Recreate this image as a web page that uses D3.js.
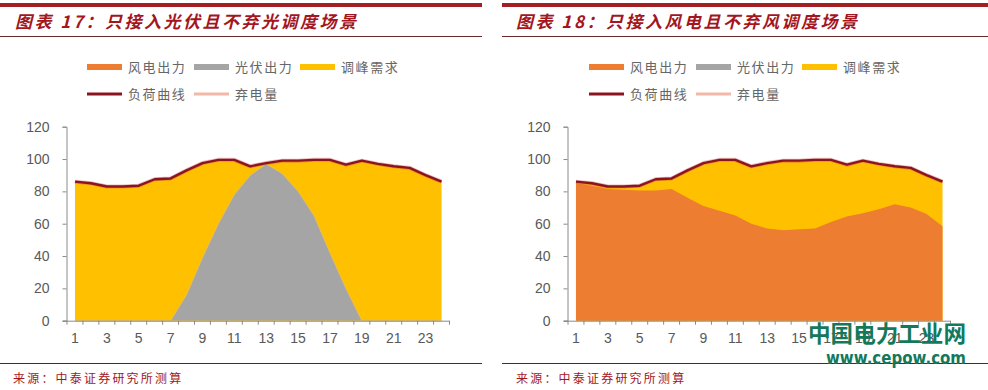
<!DOCTYPE html>
<html><head><meta charset="utf-8">
<script src="https://cdn.jsdelivr.net/npm/d3@7"></script>
<style>
html,body{margin:0;padding:0;background:#fff;}
svg{display:block;}
</style></head>
<body>
<svg id="chart" width="988" height="390"></svg>
<script>
// ---- data ----
const hours = [1,2,3,4,5,6,7,8,9,10,11,12,13,14,15,16,17,18,19,20,21,22,23,24];
const xTickLabels = [1,3,5,7,9,11,13,15,17,19,21,23];
const yTicks = [0,20,40,60,80,100,120];
const loadCurve = [86,85,83,83,83.5,87.5,88,93,97.5,99.5,99.5,95.5,97.5,99,99,99.5,99.5,96.5,99,97,95.5,94.5,90,86];
const pvOutput = [0,0,0,0,0,0,0,16,39,60,78,90,97,91,80,65,42,20,0,0,0,0,0,0];
const windOutput = [85,83.5,81.5,81,80.5,80.5,81.5,76,71,68,65,60,57,56,56.5,57,61,64.5,66.5,69,72,70,66,58.5];
const legendRow1 = ["风电出力","光伏出力","调峰需求"];
const legendRow2 = ["负荷曲线","弃电量"];
const titles = ["图表 17：只接入光伏且不弃光调度场景","图表 18：只接入风电且不弃风调度场景"];
const sourceText = "来源：中泰证券研究所测算";
const watermark = ["中国电力工业网","www.cepow.com"];

const C = {wind:"#ED7D31", pv:"#A5A5A5", peak:"#FFC000", load:"#8C1420", curtail:"#F2B8A8",
  title:"#A3161E", bar:"#A31F24", axis:"#8a8a8a", text:"#595959"};
const CJK = "'Noto Sans CJK SC','Noto Sans',sans-serif";
const NUM = "'Liberation Sans',Arial,sans-serif";

const svg = d3.select("#chart");

function panel(cfg){
  const g = svg.append("g");
  // top bar
  g.append("rect").attr("x",cfg.bx0).attr("y",3).attr("width",cfg.bx1-cfg.bx0).attr("height",4).attr("fill",C.bar);
  g.append("text").attr("x",cfg.tx).attr("y",28).text(cfg.title)
    .attr("font-family",CJK).attr("font-size",17).attr("font-weight","bold").attr("font-style","italic")
    .attr("letter-spacing","2.5px").attr("fill",C.title);
  g.append("line").attr("x1",cfg.bx0).attr("x2",cfg.bx1).attr("y1",36.5).attr("y2",36.5).attr("stroke","#6b2a2a").attr("stroke-width",1);
  // legend
  const lx = cfg.lx;
  const row1Fill = [C.wind, C.pv, C.peak];
  const offs = [0,107,213];
  legendRow1.forEach((t,i)=>{
    g.append("rect").attr("x",lx+offs[i]).attr("y",64).attr("width",35).attr("height",6).attr("fill",row1Fill[i]);
    g.append("text").attr("x",lx+offs[i]+41).attr("y",72).text(t).attr("font-family",CJK).attr("font-size",13)
      .attr("letter-spacing","1.6px").attr("fill","#666");
  });
  const row2Col = [C.load, C.curtail];
  legendRow2.forEach((t,i)=>{
    g.append("line").attr("x1",lx+offs[i]).attr("x2",lx+offs[i]+35).attr("y1",94).attr("y2",94)
      .attr("stroke",row2Col[i]).attr("stroke-width",3);
    g.append("text").attr("x",lx+offs[i]+41).attr("y",99).text(t).attr("font-family",CJK).attr("font-size",13)
      .attr("letter-spacing","1.6px").attr("fill","#666");
  });

  // scales
  const x = d3.scaleBand().domain(hours).range([cfg.px0, cfg.px1]);
  const cx = h => x(h) + x.bandwidth()/2;
  const y = d3.scaleLinear().domain([0,120]).range([320.7,126.7]);

  // areas
  const peakArea = d3.area().x((d,i)=>cx(hours[i])).y0(y(0)).y1(d=>y(d));
  g.append("path").datum(loadCurve).attr("d",peakArea).attr("fill",C.peak);
  const outArea = d3.area().x((d,i)=>cx(hours[i])).y0(y(0)).y1(d=>y(d));
  g.append("path").datum(cfg.output).attr("d",outArea).attr("fill",cfg.outColor)
    .attr("stroke",cfg.outStroke).attr("stroke-width",0.8);
  // load line
  const ln = d3.line().x((d,i)=>cx(hours[i])).y(d=>y(d));
  g.append("path").datum(loadCurve).attr("d",ln).attr("fill","none").attr("stroke","#c04040")
    .attr("stroke-opacity",0.35).attr("stroke-width",4).attr("stroke-linejoin","round");
  g.append("path").datum(loadCurve).attr("d",ln).attr("fill","none").attr("stroke",C.load)
    .attr("stroke-width",2.4).attr("stroke-linejoin","round");

  // y axis
  const ya = g.append("g").attr("transform",`translate(${cfg.px0 - 0.5},0)`)
    .call(d3.axisLeft(y).tickValues(yTicks).tickSize(4).tickPadding(13));
  ya.select(".domain").attr("stroke",C.axis);
  ya.selectAll(".tick line").attr("stroke",C.axis);
  ya.selectAll("text").attr("font-family",NUM).attr("font-size",14).attr("fill",C.text);

  // x axis
  const xa = g.append("g").attr("transform",`translate(0,${y(0)})`);
  xa.append("line").attr("x1",cfg.px0-4).attr("x2",cfg.px1).attr("y1",0.5).attr("y2",0.5).attr("stroke",C.axis);
  const bounds = hours.map(h=>x(h)).concat([cfg.px1]);
  xa.selectAll("line.tk").data(bounds).enter().append("line").attr("class","tk")
    .attr("x1",d=>d).attr("x2",d=>d).attr("y1",0).attr("y2",4).attr("stroke",C.axis);
  xa.selectAll("text").data(xTickLabels).enter().append("text")
    .attr("x",d=>cx(d)).attr("y",22).attr("text-anchor","middle").text(d=>d)
    .attr("font-family",NUM).attr("font-size",14).attr("fill",C.text);

  // footer
  g.append("line").attr("x1",cfg.bx0).attr("x2",cfg.bx1).attr("y1",363.5).attr("y2",363.5).attr("stroke","#5a2222").attr("stroke-width",1);
  g.append("text").attr("x",cfg.sx).attr("y",383).text(sourceText).attr("font-family",CJK).attr("font-size",12)
    .attr("letter-spacing","2.2px").attr("fill",C.title);
}

panel({bx0:0,bx1:482,tx:15,title:titles[0],lx:87,px0:67,px1:449.5,output:pvOutput,outColor:C.pv,outStroke:"#e8c060",sx:13});
panel({bx0:502,bx1:988,tx:516,title:titles[1],lx:589,px0:568,px1:950.5,output:windOutput,outColor:C.wind,outStroke:"none",sx:516});

// watermark
svg.append("text").attr("x",808).attr("y",342).text(watermark[0]).attr("font-family",CJK)
  .attr("font-size",23).attr("font-weight","bold").attr("fill","#14795a")
  .attr("textLength",158).attr("lengthAdjust","spacingAndGlyphs");
svg.append("text").attr("x",826).attr("y",364).text(watermark[1]).attr("font-family","'DejaVu Sans',sans-serif")
  .attr("font-size",17).attr("font-weight","bold").attr("fill","#14795a")
  .attr("textLength",140).attr("lengthAdjust","spacingAndGlyphs");
</script>
</body></html>
